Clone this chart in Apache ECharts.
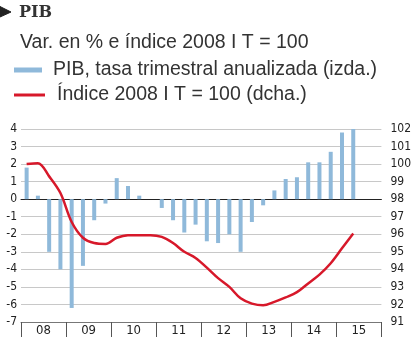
<!DOCTYPE html>
<html>
<head>
<meta charset="utf-8">
<script src="https://cdn.jsdelivr.net/npm/echarts@6/dist/echarts.min.js"></script>
<style>html,body{margin:0;padding:0;background:#fff;}#c{width:414px;height:345px;}</style>
</head>
<body>
<div id="c"></div>
<script>
var years = ['08','09','10','11','12','13','14','15'];
var quarters = [];
years.forEach(function(y){ ['I','II','III','IV'].forEach(function(q){ quarters.push(y + ' ' + q); }); });
var pibRate = [1.8, 0.2, -3.0, -4.0, -6.2, -3.8, -1.2, -0.25, 1.2, 0.75, 0.2, 0, -0.5, -1.2, -1.9, -1.45,
  -2.4, -2.5, -2.0, -3.0, -1.3, -0.35, 0.5, 1.15, 1.25, 2.1, 2.1, 2.7, 3.8, 4.0];
var indexVals = [100.0, 100.05, 99.3, 98.35, 96.7, 95.8, 95.5, 95.45, 95.8, 95.95, 95.95, 95.95, 95.85, 95.5, 95.0, 94.65,
  94.1, 93.5, 93.0, 92.35, 92.05, 91.95, 92.15, 92.4, 92.7, 93.2, 93.7, 94.35, 95.2, 96.05];
var leftTicks = {min: -7, max: 4, interval: 1};
var rightTicks = {min: 91, max: 102, interval: 1};
var titleText = 'PIB';
var subtitleText = 'Var. en % e índice 2008 I T = 100';
var seriesNames = ['PIB, tasa trimestral anualizada (izda.)', 'Índice 2008 I T = 100 (dcha.)'];

var chart = echarts.init(document.getElementById('c'), null, {renderer: 'canvas'});
var font = 'Liberation Sans, Arial, sans-serif';
var narrow = '"Liberation Sans Narrow", "Arial Narrow", "DejaVu Sans Condensed", sans-serif';
chart.setOption({
  animation: false,
  backgroundColor: '#fff',
  title: {
    text: titleText, left: 14, top: 0,
    textStyle: {fontFamily: 'DejaVu Serif, serif', fontWeight: 'bold', fontSize: 16, color: '#333'}
  },
  graphic: [
    {type: 'polygon', shape: {points: [[0, 6.5], [0, 17], [11, 12]]}, style: {fill: '#222', lineJoin: 'round', stroke: '#222', lineWidth: 1}},
    {type: 'text', left: 20, top: 33, style: {text: subtitleText, font: '19.5px ' + font, fill: '#333'}}
  ],
  legend: [
    {data: [seriesNames[0]], left: 14, top: 60, padding: 0, icon: 'rect', itemWidth: 28, itemHeight: 5,
     textStyle: {fontFamily: font, fontSize: 19.5, color: '#333', padding: [0, 0, 0, 6]}},
    {data: [seriesNames[1]], left: 14, top: 85, padding: 0, icon: 'rect', itemWidth: 31, itemHeight: 3,
     textStyle: {fontFamily: font, fontSize: 19.5, color: '#333', padding: [0, 0, 0, 7]}}
  ],
  grid: {left: 21, right: 31, top: 129, bottom: 23},
  xAxis: [
    {type: 'category', data: quarters, position: 'bottom', boundaryGap: true,
     axisLine: {show: true, onZero: true, lineStyle: {color: '#222', width: 1}},
     axisTick: {show: false}, axisLabel: {show: false}, splitLine: {show: false}},
    {type: 'category', data: years, position: 'bottom', boundaryGap: true,
     axisLine: {show: true, onZero: false, lineStyle: {color: '#777', width: 1}},
     axisTick: {show: true, length: 15, lineStyle: {color: '#555', width: 1}},
     axisLabel: {color: '#222', fontFamily: narrow, fontSize: 13, margin: 2}, splitLine: {show: false}}
  ],
  yAxis: [
    {type: 'value', min: leftTicks.min, max: leftTicks.max, interval: leftTicks.interval, position: 'left',
     axisLine: {show: false}, axisTick: {show: false},
     axisLabel: {color: '#222', fontFamily: narrow, fontSize: 12, margin: 4, padding: [0, 0, 8, 0]},
     splitLine: {show: true, lineStyle: {color: '#c8c8c8', width: 1}}},
    {type: 'value', min: rightTicks.min, max: rightTicks.max, interval: rightTicks.interval, position: 'right',
     axisLine: {show: false}, axisTick: {show: false},
     axisLabel: {color: '#222', fontFamily: narrow, fontSize: 12, margin: 9, padding: [0, 0, 9, 0]},
     splitLine: {show: false}}
  ],
  series: [
    {name: seriesNames[0], type: 'bar', xAxisIndex: 0, yAxisIndex: 0, data: pibRate, barWidth: 4,
     itemStyle: {color: '#8fb9da'}},
    {name: seriesNames[1], type: 'line', xAxisIndex: 0, yAxisIndex: 1, data: indexVals, smooth: 0.35,
     symbol: 'none', lineStyle: {color: '#d7182a', width: 2.5}, itemStyle: {color: '#d7182a'}}
  ]
});
</script>
</body>
</html>
